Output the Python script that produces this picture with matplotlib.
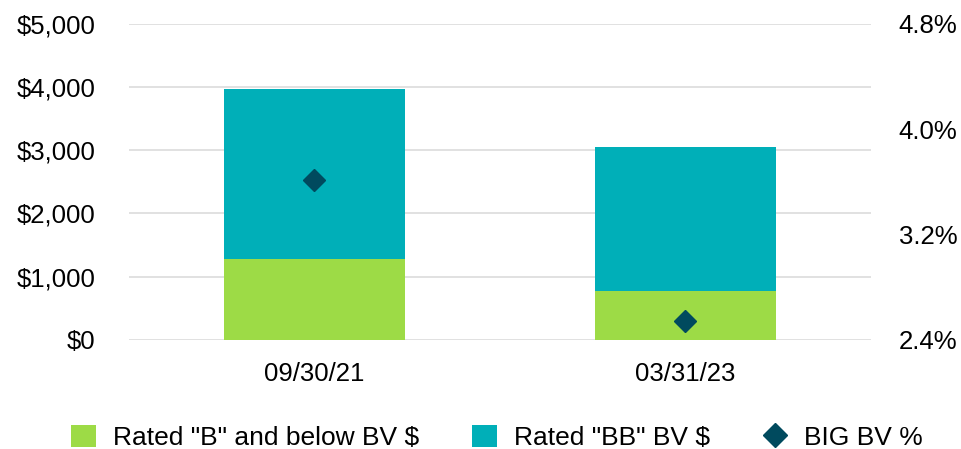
import matplotlib
matplotlib.use("Agg")
import matplotlib.pyplot as plt
from matplotlib.patches import Patch
from matplotlib.lines import Line2D
from matplotlib.ticker import FuncFormatter

plt.rcParams['font.family'] = ['Liberation Sans', 'DejaVu Sans']

categories = ["09/30/21", "03/31/23"]
rated_b_below = [1280, 770]
rated_bb = [2690, 2280]
big_bv_pct = [3.61, 2.54]

left_ticks = [0, 1000, 2000, 3000, 4000, 5000]
right_ticks = [2.4, 3.2, 4.0, 4.8]

c_green = '#9DDB46'
c_teal = '#00AFB8'
c_dark = '#004A5E'

fig = plt.figure(figsize=(9.62, 4.49), dpi=100)
ax = fig.add_axes([0.134, 0.2434, 0.7714, 0.7036])

x = list(range(len(categories)))
ax.bar(x, rated_b_below, width=0.49, color=c_green, zorder=2)
ax.bar(x, rated_bb, width=0.49, bottom=rated_b_below, color=c_teal, zorder=2)

ax.set_xlim(-0.5, 1.5)
ax.set_ylim(0, 5000)
ax.set_yticks(left_ticks)
ax.yaxis.set_major_formatter(FuncFormatter(lambda v, p: "${:,.0f}".format(v)))
ax.set_xticks(x)
ax.set_xticklabels(categories)
ax.grid(axis='y', color='#d9d9d9', linewidth=1.1, zorder=0)
ax.set_axisbelow(True)
for s in ax.spines.values():
    s.set_visible(False)
ax.tick_params(axis='y', length=0, pad=24, labelsize=18.5, colors='black')
ax.tick_params(axis='x', length=0, pad=16, labelsize=18.5, colors='black')

ax2 = ax.twinx()
ax2.plot(x, big_bv_pct, linestyle='none', marker='D', markersize=11.5,
         color=c_dark, zorder=5)
ax2.set_ylim(2.4, 4.8)
ax2.set_yticks(right_ticks)
ax2.yaxis.set_major_formatter(FuncFormatter(lambda v, p: "{:.1f}%".format(v)))
for s in ax2.spines.values():
    s.set_visible(False)
ax2.tick_params(axis='y', length=0, pad=20, labelsize=18.5, colors='black')

handles = [
    Patch(facecolor=c_green, edgecolor='none', label='Rated "B" and below BV $'),
    Patch(facecolor=c_teal, edgecolor='none', label='Rated "BB" BV $'),
    Line2D([0], [0], linestyle='none', marker='D', markersize=12.5,
           color=c_dark, label='BIG BV %'),
]
fig.legend(handles=handles, loc='center', bbox_to_anchor=(0.5166, 0.026),
           ncol=3, frameon=False, fontsize=19, handlelength=0.95,
           handleheight=0.95, handletextpad=0.64, columnspacing=2.0,
           borderpad=0.2)

fig.savefig("out.png", dpi=100)
